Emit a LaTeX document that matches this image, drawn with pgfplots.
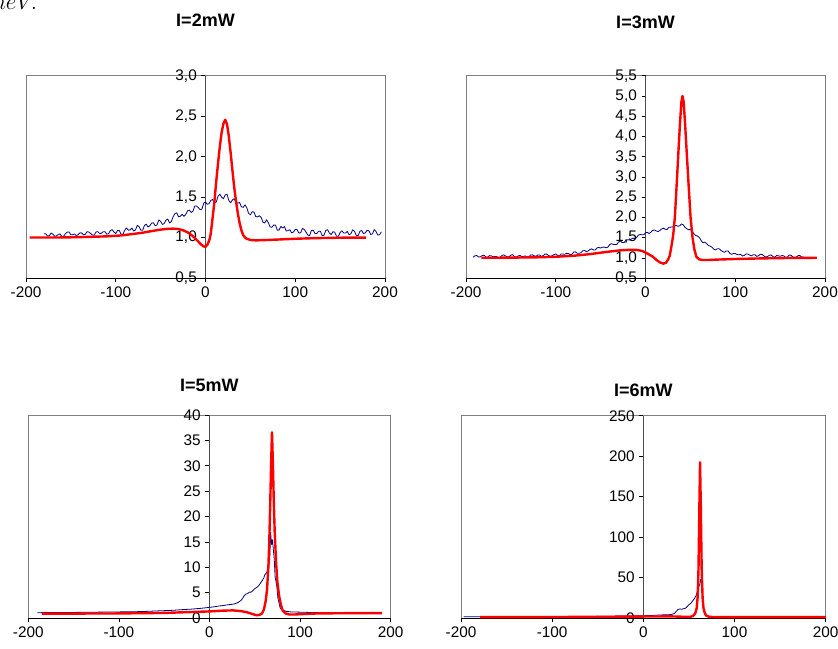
\documentclass[border=0pt]{standalone}
\usepackage{pgfplots}
\pgfplotsset{compat=1.18}
\usepackage{fontspec}
\setmainfont{Liberation Sans}
\definecolor{navy}{RGB}{0,0,128}
\pgfplotsset{
  panel/.style={
    scale only axis,
    axis x line=bottom,
    axis y line=middle,
    hide obscured x ticks=false,
    hide obscured y ticks=false,
    x axis line style={-,black},
    y axis line style={-,black!70},
    axis background/.style={draw=black!50},
    xmin=-200,xmax=200,
    xtick={-200,-100,0,100,200},
    xticklabels={-200,-100,0,100,200},
    tick align=outside,
    major tick length=3pt,
    tick style={black,line width=0.4pt},
    ticklabel style={font=\fontsize{11.5}{13}\selectfont},
    title style={font=\bfseries\fontsize{13.5}{16}\selectfont,anchor=center,at={(0.5,1)}},
  },
  blue/.style={navy,line width=0.6pt,line join=round},
  redc/.style={red,line width=1.8pt,line join=round},
}
\begin{document}
\begin{tikzpicture}
\useasboundingbox (0,0) rectangle (628.5pt,-486.75pt);
\node[anchor=base west,inner sep=0pt] at (-10.5pt,-7.5pt) {\fontsize{18}{18}\selectfont $meV.$};

% ---------- I=2mW ----------
\begin{axis}[panel, at={(19.5pt,-208.5pt)}, anchor=south west,
  width=269.25pt, height=151.7pt,
  ymin=0.5, ymax=3,
  ytick={0.5,1,1.5,2,2.5,3},
  yticklabels={{0,5},{1,0},{1,5},{2,0},{2,5},{3,0}},
  title={I=2mW}, title style={yshift=35.8pt}]
\addplot[blue] coordinates {
(-180,1.048)(-178,1.046)(-176,1.019)(-174,1.023)(-172,1.056)(-170,1.042)(-168,1.015)(-166,1.019)
(-164,1.040)(-162,1.044)(-160,1.011)(-158,1.018)(-156,1.049)(-154,1.068)(-152,1.069)(-150,1.034)
(-148,1.035)(-146,1.045)(-144,1.025)(-142,1.035)(-140,1.057)(-138,1.058)(-136,1.035)(-134,1.039)
(-132,1.073)(-130,1.068)(-128,1.051)(-126,1.031)(-124,1.029)(-122,1.069)(-120,1.073)(-118,1.051)
(-116,1.052)(-114,1.072)(-112,1.073)(-110,1.042)(-108,1.046)(-106,1.087)(-104,1.097)(-102,1.068)
(-100,1.050)(-98,1.088)(-96,1.086)(-94,1.039)(-92,1.042)(-90,1.090)(-88,1.118)(-86,1.091)
(-84,1.094)(-82,1.117)(-80,1.080)(-78,1.095)(-76,1.150)(-74,1.135)(-72,1.090)(-70,1.090)
(-68,1.150)(-66,1.165)(-64,1.130)(-62,1.145)(-60,1.180)(-58,1.182)(-56,1.144)(-54,1.156)
(-52,1.218)(-50,1.200)(-48,1.162)(-46,1.174)(-44,1.216)(-42,1.228)(-40,1.180)(-38,1.199)
(-36,1.258)(-34,1.297)(-32,1.306)(-30,1.255)(-28,1.264)(-26,1.288)(-24,1.262)(-22,1.286)
(-20,1.330)(-18,1.340)(-16,1.310)(-14,1.325)(-12,1.390)(-10,1.390)(-8,1.370)(-6,1.345)
(-4,1.350)(-2,1.425)(0,1.440)(2,1.410)(4,1.420)(6,1.460)(8,1.470)(10,1.425)
(12,1.440)(14,1.513)(16,1.535)(18,1.498)(20,1.480)(22,1.528)(24,1.535)(26,1.458)
(28,1.430)(30,1.465)(32,1.480)(34,1.438)(36,1.425)(38,1.433)(40,1.380)(42,1.373)
(44,1.405)(46,1.368)(48,1.300)(50,1.280)(52,1.320)(54,1.315)(56,1.260)(58,1.255)
(60,1.270)(62,1.250)(64,1.190)(66,1.180)(68,1.220)(70,1.185)(72,1.130)(74,1.128)
(76,1.155)(78,1.153)(80,1.090)(82,1.094)(84,1.138)(86,1.117)(88,1.136)(90,1.081)
(92,1.086)(94,1.097)(96,1.058)(98,1.069)(100,1.100)(102,1.098)(104,1.056)(106,1.059)
(108,1.112)(110,1.100)(112,1.068)(114,1.031)(116,1.024)(118,1.087)(120,1.090)(122,1.050)
(124,1.049)(126,1.079)(128,1.078)(130,1.023)(132,1.028)(134,1.088)(136,1.097)(138,1.057)
(140,1.037)(142,1.072)(144,1.066)(146,1.016)(148,1.016)(150,1.061)(152,1.085)(154,1.055)
(156,1.055)(158,1.075)(160,1.035)(162,1.046)(164,1.096)(166,1.077)(168,1.027)(170,1.022)
(172,1.077)(174,1.088)(176,1.048)(178,1.058)(180,1.088)(182,1.084)(184,1.039)(186,1.044)
(188,1.099)(190,1.075)(192,1.030)(194,1.035)(196,1.070)
};
\addplot[redc] coordinates {
(-196,1.000)(-170,1.000)(-150,1.003)(-130,1.008)(-110,1.015)(-95,1.025)(-80,1.045)(-70,1.06)
(-60,1.08)(-50,1.098)(-42,1.108)(-36,1.11)(-30,1.105)(-25,1.09)(-20,1.065)(-16,1.035)
(-12,0.995)(-8,0.95)(-5,0.915)(-2,0.89)(0,0.885)(2,0.91)(4,0.96)(5,1.0)(6,1.06)(8,1.25)
(10,1.45)(12,1.7)(14,1.92)(16,2.13)(18,2.3)(20,2.41)(22,2.455)(24,2.40)(26,2.25)(28,2.05)
(30,1.83)(32,1.62)(34,1.45)(36,1.3)(38,1.18)(40,1.09)(42,1.03)(45,0.99)(50,0.97)(56,0.965)
(65,0.968)(80,0.975)(100,0.985)(120,0.992)(150,0.998)(179,1.0)
};
\end{axis}

% ---------- I=3mW ----------
\begin{axis}[panel, at={(349.5pt,-208.5pt)}, anchor=south west,
  width=269.25pt, height=151.7pt,
  ymin=0.5, ymax=5.5,
  ytick={0.5,1,1.5,2,2.5,3,3.5,4,4.5,5,5.5},
  yticklabels={{0,5},{1,0},{1,5},{2,0},{2,5},{3,0},{3,5},{4,0},{4,5},{5,0},{5,5}},
  title={I=3mW}, title style={yshift=34.3pt}]
\addplot[blue] coordinates {
(-192,1.014)(-190,1.050)(-188,1.055)(-186,1.019)(-184,1.023)(-182,1.052)(-180,1.064)(-178,1.024)
(-176,1.008)(-174,1.053)(-172,1.049)(-170,1.025)(-168,1.033)(-166,1.030)(-164,1.002)(-162,1.007)
(-160,1.059)(-158,1.072)(-156,1.044)(-154,1.025)(-152,1.021)(-150,1.066)(-148,1.078)(-146,1.027)
(-144,1.016)(-142,1.045)(-140,1.057)(-138,1.034)(-136,1.034)(-134,1.047)(-132,1.012)(-130,1.025)
(-128,1.070)(-126,1.072)(-124,1.050)(-122,1.036)(-120,1.069)(-118,1.071)(-116,1.032)(-114,1.054)
(-112,1.092)(-110,1.090)(-108,1.055)(-106,1.033)(-104,1.050)(-102,1.080)(-100,1.094)(-98,1.058)
(-96,1.046)(-94,1.094)(-92,1.094)(-90,1.086)(-88,1.110)(-86,1.106)(-84,1.078)(-82,1.086)
(-80,1.142)(-78,1.146)(-76,1.110)(-74,1.110)(-72,1.126)(-70,1.170)(-68,1.182)(-66,1.154)
(-64,1.166)(-62,1.202)(-60,1.222)(-58,1.194)(-56,1.190)(-54,1.246)(-52,1.254)(-50,1.241)
(-48,1.260)(-46,1.266)(-44,1.248)(-42,1.262)(-40,1.324)(-38,1.348)(-36,1.332)(-34,1.324)
(-32,1.332)(-30,1.389)(-28,1.414)(-26,1.376)(-24,1.378)(-22,1.420)(-20,1.446)(-18,1.440)
(-16,1.458)(-14,1.488)(-12,1.470)(-10,1.499)(-8,1.560)(-6,1.576)(-4,1.568)(-2,1.568)
(0,1.616)(2,1.628)(4,1.600)(6,1.632)(8,1.680)(10,1.687)(12,1.662)(14,1.648)
(16,1.674)(18,1.712)(20,1.734)(22,1.704)(24,1.698)(26,1.752)(28,1.758)(30,1.759)
(32,1.791)(34,1.798)(36,1.781)(38,1.785)(40,1.837)(42,1.816)(44,1.754)(46,1.717)
(48,1.696)(50,1.696)(52,1.664)(54,1.588)(56,1.552)(58,1.535)(60,1.502)(62,1.425)
(64,1.372)(66,1.387)(68,1.354)(70,1.305)(72,1.288)(74,1.262)(76,1.212)(78,1.194)
(80,1.224)(82,1.224)(84,1.184)(86,1.152)(88,1.136)(90,1.169)(92,1.170)(94,1.108)
(96,1.086)(98,1.104)(100,1.106)(102,1.079)(104,1.076)(106,1.085)(108,1.046)(110,1.055)
(112,1.096)(114,1.093)(116,1.066)(118,1.047)(120,1.076)(122,1.075)(124,1.033)(126,1.052)
(128,1.087)(130,1.082)(132,1.044)(134,1.019)(136,1.033)(138,1.060)(140,1.071)(142,1.030)
(144,1.012)(146,1.055)(148,1.049)(150,1.036)(152,1.055)(154,1.047)(156,1.014)(158,1.017)
(160,1.068)(162,1.064)(164,1.019)(166,1.010)(168,1.017)(170,1.053)(172,1.056)(174,1.019)
(176,1.022)
};
\addplot[redc] coordinates {
(-183,1.0)(-150,1.003)(-120,1.012)(-100,1.025)(-80,1.05)(-62,1.09)(-45,1.14)(-30,1.18)
(-20,1.195)(-10,1.195)(-4,1.17)(0,1.13)(4,1.08)(8,1.03)(12,0.95)(16,0.885)(20,0.855)(23,0.88)
(25,0.95)(27,1.05)(29,1.3)(30.8,1.55)(32.7,2.0)(35.2,3.0)(37,3.75)(38.5,4.35)(40,4.85)(41.2,5.0)
(42.5,4.85)(44,4.35)(45.8,3.65)(47.5,3.0)(50.2,2.0)(52.4,1.5)(54.5,1.2)(56.8,1.02)(60,0.96)
(64,0.945)(70,0.945)(80,0.955)(100,0.97)(130,0.985)(160,0.995)(191,1.0)
};
\end{axis}

% ---------- I=5mW ----------
\begin{axis}[panel, at={(21.2pt,-463.5pt)}, anchor=south west,
  width=271.8pt, height=152.25pt,
  ymin=0, ymax=40,
  ytick={0,5,10,15,20,25,30,35,40},
  yticklabels={0,5,10,15,20,25,30,35,40},
  title={I=5mW}, title style={yshift=16.5pt}]
\addplot[blue] coordinates {
(-190,1.05)(-150,1.1)(-100,1.2)(-80,1.25)(-70,1.3)(-60,1.38)(-50,1.45)(-40,1.52)(-30,1.65)
(-20,1.75)(-10,1.9)(0,2.1)(5,2.2)(10,2.35)(15,2.45)(20,2.6)(25,2.7)(28,2.8)(32,3.1)(35,3.5)
(37,4.0)(38,4.3)(40,4.7)(42,4.8)(44,5.1)(46,5.1)(48,5.4)(50,5.8)(52,6.0)(54,6.3)(56,6.8)
(58,7.3)(60,7.9)(61,8.5)(63,8.9)(65,9.8)(66.5,11.5)(67.5,16.9)(68.5,14.5)(69.5,15.4)(70.5,13.5)
(71.5,11.6)(72.5,8)(73.5,7.2)(74.5,6)(75.5,4)(76.5,3.2)(78,2.0)(80,1.6)(85,1.3)(90,1.2)
(110,1.1)(150,1.05)(188,1.0)
};
\addplot[redc] coordinates {
(-185,0.85)(-100,0.9)(-50,1.0)(0,1.3)(15,1.45)(26,1.5)(35,1.35)(42,1.1)(48,0.75)(52,0.55)
(55,0.6)(58,0.9)(60,1.6)(62,3.3)(63.5,5.5)(65,10)(66,15)(67,22)(68,30)(69,36.6)(70,30.5)
(71,23)(72,17)(73.5,11)(75,7)(77,4.2)(79,2.5)(81,1.4)(84,0.9)(88,0.7)(95,0.7)(105,0.8)
(120,0.9)(150,0.95)(190.7,0.95)
};
\end{axis}

% ---------- I=6mW ----------
\begin{axis}[panel, at={(345.75pt,-463.5pt)}, anchor=south west,
  width=273.5pt, height=151.7pt,
  ymin=0, ymax=250,
  ytick={0,50,100,150,200,250},
  yticklabels={0,50,100,150,200,250},
  title={I=6mW}, title style={yshift=13.3pt}]
\addplot[blue] coordinates {
(-197,1.5)(-180,1.5)(-100,1.7)(-50,2)(0,2.8)(10,3.2)(20,3.8)(30,4.2)(34,5.5)(36,8)(38,10.5)
(40,11.2)(42,10.8)(44,11.5)(46,12)(48,14)(50,16.5)(52,18)(54,21)(56,24)(58,28)(60,36)(62,42)
(63,47.8)(64,45)(65,30)(66,14)(67,6)(68,3)(72,2)(100,1.5)(200,1.5)
};
\addplot[redc] coordinates {
(-179,1)(-100,1.2)(0,1.8)(30,2)(45,1.5)(52,1.5)(55,3)(57,6)(58.5,12)(59.5,25)(60.5,60)
(61.5,140)(62.2,192.5)(63,140)(64,60)(65,25)(66,12)(67.5,6)(69,3)(72,1.5)(80,1)(200,1)
};
\end{axis}
\end{tikzpicture}
\end{document}
